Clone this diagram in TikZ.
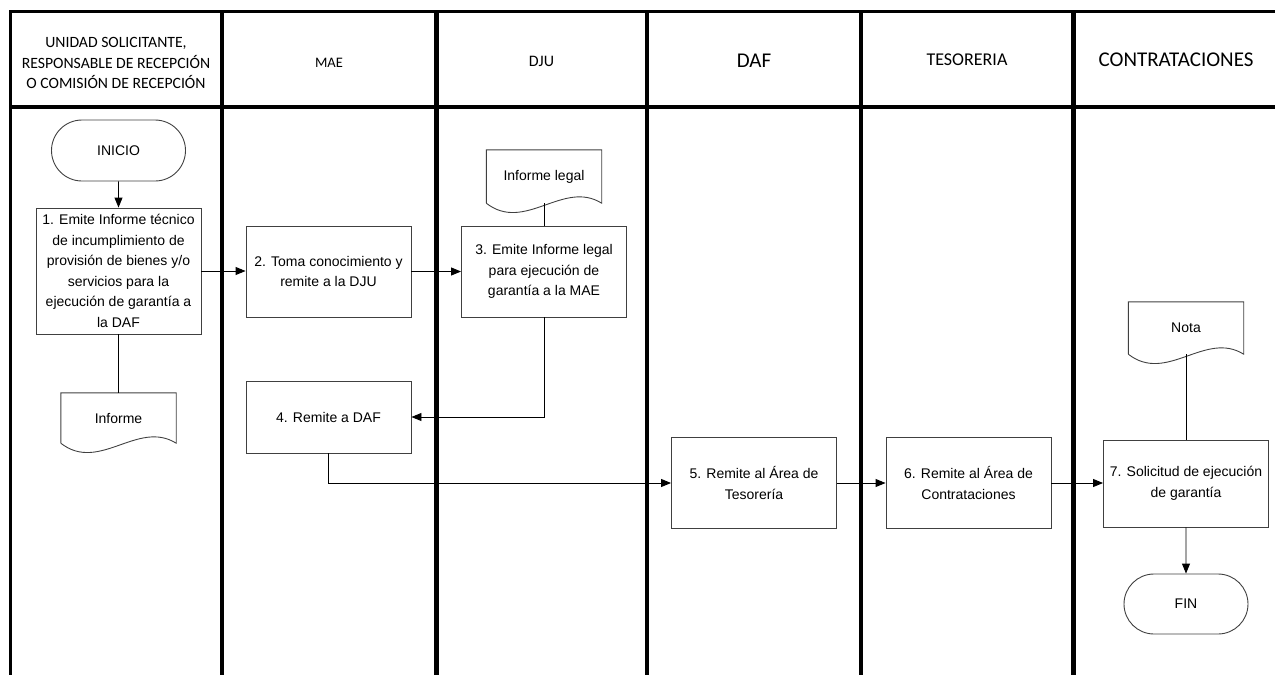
\documentclass[tikz,border=0pt]{standalone}
\usepackage{fontspec}
\setmainfont{Liberation Sans}
\newfontfamily\hdrfont{Carlito}
\usetikzlibrary{arrows.meta,calc,shapes.misc}
\newcommand\docoutline[1]{%
  \draw[draw=black!75, line width=0.9pt] (#1.south west) -- (#1.north west) -- (#1.north east) -- (#1.south east)
   .. controls ($(#1.south east)!1/3!(#1.south west)+(0,-24)$) and ($(#1.south west)!1/3!(#1.south east)+(0,30)$) .. (#1.south west);}
\begin{document}
\begin{tikzpicture}[x=1pt,y=-1pt,
  lane/.style={line width=4.5pt},
  proc/.style={draw=black!75, line width=0.9pt, fill=white, minimum width=165pt, minimum height=91pt, align=center, font=\fontsize{14}{20.5}\selectfont, inner sep=0pt},
  term/.style={draw=black!75, line width=0.9pt, rounded rectangle, minimum width=134pt, minimum height=61pt, inner sep=0pt, font=\fontsize{14}{17}\selectfont},
  docnode/.style={minimum width=115pt, minimum height=52pt, inner sep=0pt, font=\fontsize{14}{17}\selectfont},
  conn/.style={line width=0.9pt},
  arr/.style={conn, -{Triangle[length=10pt,width=8pt]}},
  hdr/.style={align=center, font=\hdrfont\fontsize{15.7}{20.3}\selectfont}
]
\useasboundingbox (0,0) rectangle (1275,675);
% frame and lanes
\draw[line width=3.5pt, line join=miter] (10.5,675) -- (10.5,11.5) -- (1280,11.5);
\draw[lane] (10.5,107) -- (1280,107);
\foreach \x in {222,436.5,647,861,1073.5} \draw[lane] (\x,11.5) -- (\x,680);
% headers
\node[hdr] (h1) at (116,63) {UNIDAD SOLICITANTE,\\RESPONSABLE DE RECEPCIÓN\\O COMISIÓN DE RECEPCIÓN};
\node[hdr, font=\hdrfont\fontsize{14.5}{17}\selectfont] (h2) at (329,63) {MAE};
\node[hdr, font=\hdrfont\fontsize{16}{19}\selectfont] (h3) at (541.5,61) {DJU};
\node[hdr, font=\hdrfont\fontsize{21}{24}\selectfont] (h4) at (754,60.5) {DAF};
\node[hdr, font=\hdrfont\fontsize{18}{21}\selectfont] (h5) at (967,60) {TESORERIA};
\node[hdr, font=\hdrfont\fontsize{21}{24}\selectfont] (h6) at (1176,60) {CONTRATACIONES};
% nodes
\node[term] (ini) at (118.5,150.5) {INICIO};
\node[proc, minimum height=126pt] (p1) at (118.5,271) {1. Emite Informe técnico\\de incumplimiento de\\provisión de bienes y/o\\servicios para la\\ejecución de garantía a\\la DAF};
\node[docnode, minimum height=50pt] (d1) at (118.5,418) {Informe};
\node[proc] (p2) at (328.5,271.5) {2. Toma conocimiento y\\remite a la DJU};
\node[proc] (p3) at (544,271.5) {3. Emite Informe legal\\para ejecución de\\garantía a la MAE};
\node[docnode, minimum height=53pt] (d3) at (544,176.5) {Informe legal};
\node[proc, minimum height=72pt] (p4) at (328.5,417) {4. Remite a DAF};
\node[proc] (p5) at (754,483) {5. Remite al Área de\\Tesorería};
\node[proc] (p6) at (968.5,483) {6. Remite al Área de\\Contrataciones};
\node[proc, minimum height=87pt] (p7) at (1186,483.5) {7. Solicitud de ejecución\\de garantía};
\node[docnode] (d7) at (1186,328) {Nota};
\node[term, minimum width=124pt, minimum height=60pt] (fin) at (1186,604) {FIN};
\docoutline{d1}
\docoutline{d3}
\docoutline{d7}
% connectors
\draw[arr] (ini) -- (p1);
\draw[conn] (p1) -- (d1);
\draw[arr] (p1.east) -- (p1.east -| p2.west);
\draw[arr] (p2) -- (p3);
\draw[conn] (d3) -- (p3);
\draw[arr] (p3.south) |- (p4.east);
\draw[arr] (p4.south) |- (p5.west);
\draw[arr] (p5) -- (p6);
\draw[arr] (p6.east) -- (p6.east -| p7.west);
\draw[conn] (d7) -- (p7);
\draw[arr] (p7) -- (fin);
\end{tikzpicture}
\end{document}
